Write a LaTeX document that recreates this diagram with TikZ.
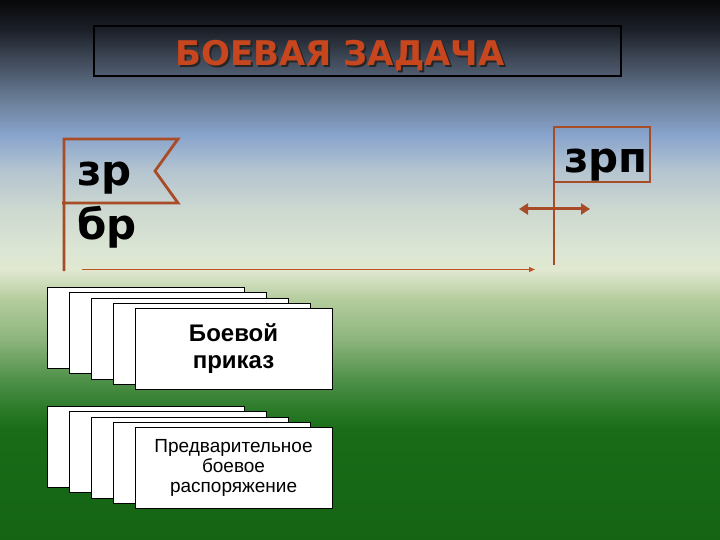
\documentclass[tikz,border=0pt]{standalone}
\usepackage{fontspec}
\setmainfont{Liberation Sans}
\newfontfamily\dejavu{DejaVu Sans}
\usetikzlibrary{arrows.meta}

\definecolor{flagred}{RGB}{168,76,40}
\definecolor{titlered}{RGB}{200,70,30}
\definecolor{arrowred}{RGB}{192,82,40}
\definecolor{bgA}{RGB}{8,8,10}
\definecolor{bgB}{RGB}{28,32,40}
\definecolor{bgC}{RGB}{64,74,90}
\definecolor{bgD}{RGB}{106,126,152}
\definecolor{bgE}{RGB}{136,164,204}
\definecolor{bgF}{RGB}{180,196,208}
\definecolor{bgG}{RGB}{205,216,208}
\definecolor{bgH}{RGB}{220,230,212}
\definecolor{bgI}{RGB}{224,232,208}
\definecolor{bgJ}{RGB}{180,204,156}
\definecolor{bgK}{RGB}{140,180,124}
\definecolor{bgL}{RGB}{78,144,72}
\definecolor{bgM}{RGB}{42,122,40}
\definecolor{bgN}{RGB}{26,108,24}
\definecolor{bgO}{RGB}{20,100,20}

\pgfdeclareverticalshading{sky}{100bp}{color(0bp)=(bgO); color(25bp)=(bgO);
  color(35.19bp)=(bgN); color(37.04bp)=(bgM); color(39.81bp)=(bgL);
  color(43.52bp)=(bgK); color(47.22bp)=(bgJ); color(50bp)=(bgI);
  color(51.85bp)=(bgH); color(55.56bp)=(bgG); color(59.26bp)=(bgF);
  color(62.5bp)=(bgE); color(65.74bp)=(bgD); color(69.44bp)=(bgC);
  color(72.22bp)=(bgB); color(75bp)=(bgA); color(100bp)=(bgA)}

% title text with its drop shadow
\newcommand{\shadowtitle}[1]{\rlap{\hspace{2pt}\raisebox{-2pt}{\color{black!85}#1}}#1}

\begin{document}
\begin{tikzpicture}[
    x=1pt, y=-1pt,
    flagline/.style={draw=flagred, line width=2.8pt},
    flaglabel/.style={font=\dejavu\bfseries\fontsize{42}{54}\selectfont,
                      inner sep=0pt, align=left},
    card/.style={draw=black, line width=0.9pt, fill=white, minimum width=197pt,
                 minimum height=81pt, inner sep=0pt, anchor=north west},
    movearr/.style={-{Triangle[length=6pt, width=5pt]}, draw=arrowred, line width=1.3pt},
    shiftarr/.style={{Triangle[length=9pt, width=11pt]}-{Triangle[length=9pt, width=11pt]},
                     draw=flagred, line width=3pt}
  ]
  \useasboundingbox (0,0) rectangle (720,540);
  \shade[shading=sky] (0,0) rectangle (720,540);

  % Title
  \node[draw=black, line width=2pt, minimum width=527pt, minimum height=50pt,
        inner sep=0pt] (titlebox) at (357,51.5) {};
  \node[anchor=base, titlered, font=\dejavu\bfseries\fontsize{34}{40}\selectfont]
    (title) at (340,66) {\shadowtitle{БОЕВАЯ ЗАДАЧА}};

  % Flags
  \draw[flagline] (64,271) -- (64,139) -- (178,139) -- (155,171) -- (178,203) -- (62,203);
  \node[flaglabel, anchor=north west] (zrbr) at (77,162) {зр\\бр};
  \draw[flagline] (554,265) -- (554,127) -- (650,127) -- (650,182) -- (554,182);
  \node[flaglabel, anchor=base west] (zrp) at (564,173) {зрп};

  % Arrows
  \coordinate (start) at (82,269.5);
  \coordinate (goal)  at (535,269.5);
  \coordinate (back)  at (519,209);
  \coordinate (fwd)   at (590,209);
  \draw[movearr] (start) -- (goal);
  \draw[shiftarr] (back) -- (fwd);

  % Documents
  \foreach \i in {0,...,3}{
    \node[card] (order\i) at (47+21.9*\i, 287+5.25*\i) {};
    \node[card] (prelim\i) at (47+21.9*\i, 406+5.25*\i) {};
  }
  \node[card, align=center, font=\bfseries\fontsize{24}{27}\selectfont]
    (order) at (134.6,308) {Боевой\\приказ};
  \node[card, align=center, font=\fontsize{19}{20}\selectfont]
    (prelim) at (134.6,427) {Предварительное\\боевое\\распоряжение};
\end{tikzpicture}
\end{document}
